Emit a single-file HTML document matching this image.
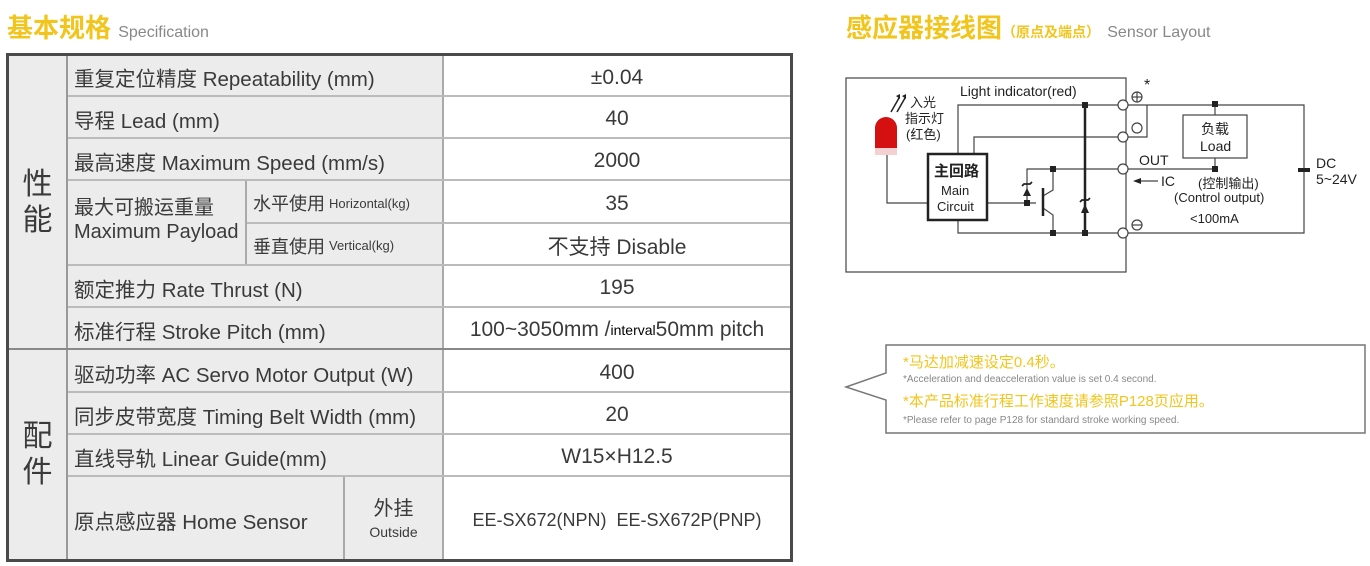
<!DOCTYPE html>
<html><head><meta charset="utf-8"><style>
body{margin:0;width:1370px;height:566px;background:#fff;position:relative;overflow:hidden;font-family:"Liberation Sans","Noto Sans CJK SC",sans-serif;color:#3a3a3a}
.a{position:absolute}
.c{position:absolute;display:flex;align-items:center;box-sizing:border-box}
.g{background:#ececec}
.t{font-size:20.5px;padding-left:6px;padding-top:3px;white-space:nowrap}
.v{justify-content:center;font-size:21px;background:#fff;white-space:nowrap;padding-top:4px}
.hl{position:absolute;height:2px;background:#bbb}
</style></head><body>
<div class="a" style="left:7px;top:8px;font-size:26px;font-weight:bold;color:#f2c51d">基本规格 <span style="font-size:16px;font-weight:normal;color:#888">Specification</span></div>
<div class="a" style="left:846px;top:8px;font-size:26px;font-weight:bold;color:#f2c51d">感应器接线图<span style="font-size:14px">（原点及端点）</span> <span style="font-size:16px;font-weight:normal;color:#888">Sensor Layout</span></div>

<div class="a g" style="left:6px;top:53px;width:787px;height:509px;border:3px solid #4a4a4a;box-sizing:border-box"></div>
<div class="a" style="left:66px;top:56px;width:2px;height:503px;background:#999"></div>
<div class="a" style="left:443px;top:56px;width:347px;height:503px;background:#fff"></div>
<div class="a" style="left:442px;top:56px;width:2px;height:503px;background:#aaa"></div>
<div class="c" style="left:9px;top:56px;width:57px;height:293px;justify-content:center;font-size:30px;line-height:36px;text-align:center">性<br>能</div>
<div class="c" style="left:9px;top:351px;width:57px;height:208px;justify-content:center;font-size:30px;line-height:36px;text-align:center">配<br>件</div>
<div class="hl" style="left:9px;top:348px;width:781px;background:#888"></div>
<div class="hl" style="left:68px;top:95px;width:722px"></div>
<div class="hl" style="left:68px;top:137px;width:722px"></div>
<div class="hl" style="left:68px;top:179px;width:722px"></div>
<div class="hl" style="left:246px;top:222px;width:544px"></div>
<div class="hl" style="left:68px;top:264px;width:722px"></div>
<div class="hl" style="left:68px;top:306px;width:722px"></div>
<div class="hl" style="left:68px;top:391px;width:722px"></div>
<div class="hl" style="left:68px;top:433px;width:722px"></div>
<div class="hl" style="left:68px;top:475px;width:722px"></div>
<div class="a" style="left:245px;top:181px;width:2px;height:83px;background:#aaa"></div>
<div class="a" style="left:343px;top:477px;width:2px;height:82px;background:#aaa"></div>

<div class="c t" style="left:68px;top:56px;height:39px">重复定位精度 Repeatability (mm)</div>
<div class="c v" style="left:444px;top:56px;width:346px;height:39px">±0.04</div>
<div class="c t" style="left:68px;top:97px;height:40px">导程 Lead (mm)</div>
<div class="c v" style="left:444px;top:97px;width:346px;height:40px">40</div>
<div class="c t" style="left:68px;top:139px;height:40px">最高速度 Maximum Speed (mm/s)</div>
<div class="c v" style="left:444px;top:139px;width:346px;height:40px">2000</div>
<div class="a" style="left:74px;top:196px;font-size:20px;line-height:24px">最大可搬运重量<br>Maximum Payload</div>
<div class="c t" style="left:247px;top:181px;height:41px;font-size:18px">水平使用 <span style="font-size:13px;margin-left:4px">Horizontal(kg)</span></div>
<div class="c v" style="left:444px;top:181px;width:346px;height:41px">35</div>
<div class="c t" style="left:247px;top:224px;height:40px;font-size:18px">垂直使用 <span style="font-size:13px;margin-left:4px">Vertical(kg)</span></div>
<div class="c v" style="left:444px;top:224px;width:346px;height:40px">不支持 Disable</div>
<div class="c t" style="left:68px;top:266px;height:40px">额定推力 Rate Thrust (N)</div>
<div class="c v" style="left:444px;top:266px;width:346px;height:40px">195</div>
<div class="c t" style="left:68px;top:308px;height:40px">标准行程 Stroke Pitch (mm)</div>
<div class="c v" style="left:444px;top:308px;width:346px;height:40px;font-size:21px">100~3050mm /<span style="font-size:14px;color:#000">interval</span>50mm pitch</div>
<div class="c t" style="left:68px;top:351px;height:40px">驱动功率 AC Servo Motor Output (W)</div>
<div class="c v" style="left:444px;top:351px;width:346px;height:40px">400</div>
<div class="c t" style="left:68px;top:393px;height:40px">同步皮带宽度 Timing Belt Width (mm)</div>
<div class="c v" style="left:444px;top:393px;width:346px;height:40px">20</div>
<div class="c t" style="left:68px;top:435px;height:40px">直线导轨 Linear Guide(mm)</div>
<div class="c v" style="left:444px;top:435px;width:346px;height:40px">W15×H12.5</div>
<div class="c t" style="left:68px;top:477px;height:82px">原点感应器 Home Sensor</div>
<div class="a" style="left:345px;top:498px;width:97px;text-align:center;font-size:20px;line-height:22px">外挂<br><span style="font-size:14px">Outside</span></div>
<div class="c v" style="left:444px;top:477px;width:346px;height:82px;font-size:18px">EE-SX672(NPN)&nbsp; EE-SX672P(PNP)</div>

<svg class="a" style="left:0;top:0" width="1370" height="566" font-family="Liberation Sans, Noto Sans CJK SC, sans-serif" fill="#222">
<g stroke="#444" stroke-width="1.2" fill="none">
<rect x="846" y="78" width="280" height="194"/>
<polyline points="958,154 958,105 1118,105"/>
<polyline points="1128,105 1304,105 1304,233 1128,233"/>
<polyline points="1128,137 1147,137 1147,105"/>
<polyline points="1118,137 974,137 974,154"/>
<polyline points="958,220 958,233 1118,233"/>
<polyline points="887,155 887,203 928,203"/>
<polyline points="987,203 1036,203"/>
<polyline points="1027,203 1027,169 1118,169"/>
<line x1="1128" y1="169" x2="1215" y2="169"/>
<polyline points="1215,105 1215,115"/><polyline points="1215,158 1215,169"/>
<rect x="1183" y="115" width="64" height="43"/>
<polyline points="1043,196 1053,190 1053,169"/><polyline points="1043,208 1053,215 1053,233"/>
<circle cx="1123" cy="105" r="5" fill="#fff"/><circle cx="1123" cy="137" r="5" fill="#fff"/><circle cx="1123" cy="169" r="5" fill="#fff"/><circle cx="1123" cy="233" r="5" fill="#fff"/>
<circle cx="1137" cy="97" r="5"/><line x1="1132" y1="97" x2="1142" y2="97"/><line x1="1137" y1="92" x2="1137" y2="102"/>
<circle cx="1137" cy="128" r="5"/>
<circle cx="1137" cy="225" r="5"/><line x1="1132" y1="225" x2="1142" y2="225"/>
<line x1="1140" y1="181" x2="1158" y2="181"/>
</g>
<g stroke="#222" stroke-width="1.8" fill="none"><path d="M1022,186 l2,-2 h6 l2,-2 M1080,202 l2,-2 h6 l2,-2"/></g>
<line x1="1085" y1="105" x2="1085" y2="233" stroke="#222" stroke-width="2.5"/>
<line x1="1043" y1="188" x2="1043" y2="216" stroke="#222" stroke-width="2.5"/>
<rect x="928" y="154" width="59" height="66" fill="#fff" stroke="#222" stroke-width="2.5"/>
<path d="M875,148 v-20 a11,11 0 0 1 22,0 v20z" fill="#d41010"/><rect x="875" y="148" width="22" height="7" fill="#f4d0d0"/>
<path d="M1023,196 l4,-8 l4,8z M1081,213 l4,-9 l4,9z M1133,181 l8,-3 v6z M1298,168 h12 v4 h-12z"/>
<g fill="#222"><rect x="1212" y="101" width="6" height="6"/><rect x="1082" y="102" width="6" height="6"/><rect x="1212" y="166" width="6" height="6"/><rect x="1050" y="166" width="6" height="6"/><rect x="1024" y="200" width="6" height="6"/><rect x="1050" y="230" width="6" height="6"/><rect x="1082" y="230" width="6" height="6"/></g>
<path d="M891,112 l8,-14 M897,112 l8,-14" stroke="#222" stroke-width="1.5"/>
<path d="M896,96 l4,-2 l0,5z M902,96 l4,-2 l0,5z"/>
<g font-size="14"><text x="960" y="96">Light indicator(red)</text><text x="1144" y="90" font-size="16">*</text>
<text x="1139" y="165">OUT</text><text x="1161" y="186">IC</text>
<text x="1316" y="168">DC</text><text x="1316" y="184">5~24V</text>
<text x="1201" y="134" font-size="14">负载</text><text x="1200" y="151">Load</text>
<text x="1198" y="188" font-size="13">(控制输出)</text><text x="1174" y="202" font-size="13">(Control output)</text><text x="1190" y="223" font-size="13">&lt;100mA</text>
<text x="910" y="107" font-size="13">入光</text><text x="905" y="123" font-size="13">指示灯</text><text x="906" y="139" font-size="13">(红色)</text>
<text x="934" y="176" font-weight="bold" font-size="15">主回路</text><text x="941" y="195" font-size="13">Main</text><text x="937" y="211" font-size="13">Circuit</text></g>
<path d="M886,345 H1365 V433 H886 V400 L846,387 L886,373Z" fill="#fff" stroke="#777" stroke-width="1.5"/>
<text x="903" y="367" font-size="15" fill="#f2c51d">*马达加减速设定0.4秒。</text>
<text x="903" y="382" font-size="10" fill="#888">*Acceleration and deacceleration value is set 0.4 second.</text>
<text x="903" y="406" font-size="15" fill="#f2c51d">*本产品标准行程工作速度请参照P128页应用。</text>
<text x="903" y="423" font-size="10" fill="#888">*Please refer to page P128 for standard stroke working speed.</text>
</svg>
</body></html>
